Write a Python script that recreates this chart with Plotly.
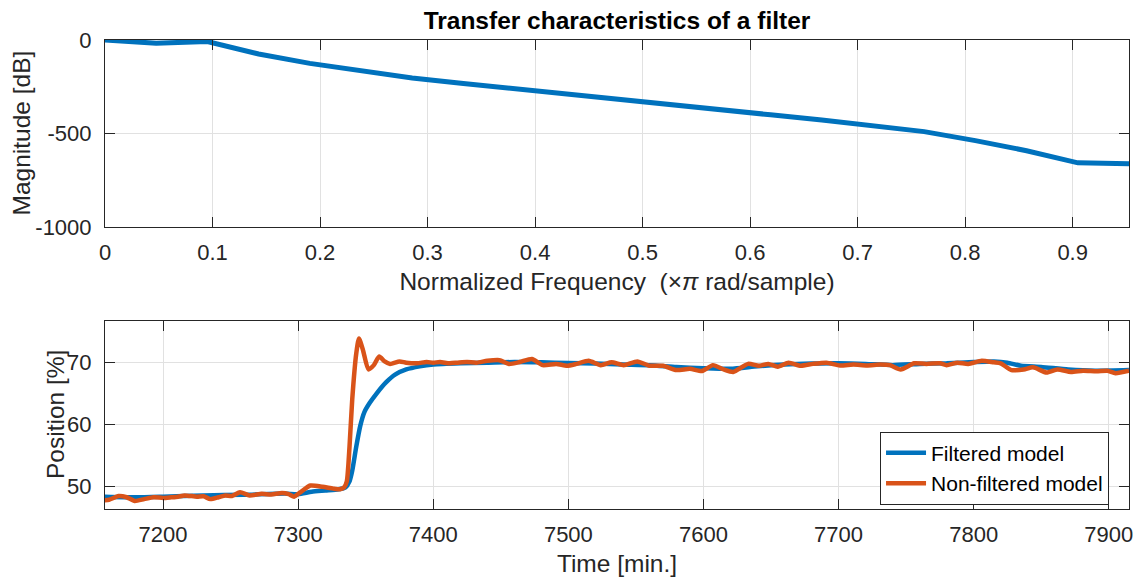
import plotly.graph_objects as go

# ---------------- data ----------------
freq = [0.0, 0.0476, 0.0952, 0.1429, 0.1905, 0.2381, 0.2857, 0.3333, 0.3810, 0.4286,
        0.4762, 0.5238, 0.5714, 0.6190, 0.6667, 0.7143, 0.7619, 0.8095, 0.8571, 0.9048, 0.9524]
magnitude_db = [0, -17, -8, -75, -125, -165, -203, -233, -262, -290,
                -317, -345, -372, -400, -428, -458, -490, -538, -592, -657, -662]

mag_tickvals = [-1000, -500, 0]
mag_ticktext = ["-1000", "-500", "0"]

t_filtered = [7156, 7180, 7200, 7230, 7260, 7290, 7300, 7310, 7320, 7330, 7335, 7338, 7340,
              7343, 7346, 7349, 7353, 7358, 7365, 7372, 7380, 7390, 7400, 7420, 7440, 7460,
              7480, 7500, 7520, 7540, 7560, 7580, 7600, 7620, 7640, 7660, 7680, 7700, 7720,
              7740, 7760, 7780, 7800, 7815, 7825, 7835, 7850, 7870, 7890, 7915]
pos_filtered = [48.3, 48.2, 48.3, 48.5, 48.6, 48.8, 48.7, 49.1, 49.3, 49.5, 49.8, 50.8, 52.5,
                56.4, 59.8, 62.0, 63.5, 65.0, 66.8, 68.1, 68.9, 69.4, 69.7, 69.9, 70.0, 70.1,
                70.05, 69.95, 69.85, 69.7, 69.6, 69.3, 69.1, 69.0, 69.4, 69.7, 69.85, 69.9, 69.8,
                69.6, 69.8, 69.9, 70.1, 70.2, 70.0, 69.5, 69.3, 68.9, 68.7, 68.8]

t_raw = [7156, 7160, 7167, 7173, 7179, 7186, 7193, 7200, 7206, 7211, 7216, 7225, 7230, 7235,
         7241, 7246, 7251, 7257, 7264, 7273, 7280, 7288, 7293, 7297, 7301, 7309, 7318, 7326,
         7331, 7334, 7336, 7338, 7340, 7343, 7345, 7348, 7352, 7356, 7360, 7364, 7368, 7375,
         7380, 7388, 7395, 7400, 7405, 7412, 7418, 7425, 7432, 7440, 7449, 7456, 7464, 7473,
         7481, 7491, 7499, 7506, 7515, 7524, 7532, 7541, 7551, 7560, 7570, 7580, 7590, 7599,
         7607, 7615, 7622, 7633, 7641, 7648, 7655, 7663, 7672, 7681, 7691, 7701, 7711, 7721,
         7731, 7738, 7746, 7756, 7765, 7775, 7780, 7788, 7796, 7806, 7815, 7820, 7828, 7837,
         7844, 7854, 7862, 7872, 7881, 7891, 7899, 7905, 7915]
pos_raw = [47.7, 47.8, 48.4, 48.2, 47.6, 47.9, 48.2, 48.1, 48.2, 48.3, 48.5, 48.3, 48.35, 47.9,
           48.2, 48.5, 48.4, 49.0, 48.5, 48.75, 48.65, 48.9, 48.7, 48.3, 48.9, 50.1, 49.9, 49.6,
           49.5, 49.8, 50.8, 56.4, 64.0, 71.5, 73.9, 72.0, 68.9, 69.6, 71.0, 70.2, 69.8, 70.2,
           70.0, 69.9, 70.1, 70.0, 70.1, 69.9, 70.0, 70.1, 70.0, 70.3, 70.4, 69.8, 70.1, 70.6,
           69.6, 69.8, 69.5, 69.8, 70.3, 69.6, 70.05, 69.6, 70.2, 69.5, 69.5, 68.8, 69.0, 68.65,
           69.6, 68.9, 68.5, 69.8, 69.5, 69.8, 69.35, 70.0, 69.5, 69.8, 70.0, 69.55, 69.7, 69.55,
           69.7, 69.6, 68.9, 69.9, 69.8, 69.9, 69.6, 70.0, 69.8, 70.3, 70.05, 69.9, 68.8, 68.9,
           69.25, 68.4, 68.9, 68.5, 68.7, 68.6, 68.7, 68.3, 68.7]

pos_tickvals = [50, 60, 70]

# ---------------- styling ----------------
BLUE = "#0072BD"
ORANGE = "#D95319"
AX = "#262626"
GRID = "#E1E1E1"
FONT = "Liberation Sans, Arial, sans-serif"

fig = go.Figure()
fig.add_trace(go.Scatter(x=freq, y=magnitude_db, mode="lines",
                         line=dict(color=BLUE, width=5), showlegend=False,
                         xaxis="x", yaxis="y"))
fig.add_trace(go.Scatter(x=t_filtered, y=pos_filtered, mode="lines", name="Filtered model",
                         line=dict(color=BLUE, width=4.5, shape="spline", smoothing=0.6),
                         xaxis="x2", yaxis="y2"))
fig.add_trace(go.Scatter(x=t_raw, y=pos_raw, mode="lines", name="Non-filtered model",
                         line=dict(color=ORANGE, width=4.5, shape="spline", smoothing=0.6),
                         xaxis="x2", yaxis="y2"))

axis_common = dict(showline=True, linecolor=AX, linewidth=1, mirror="ticks",
                   ticks="inside", ticklen=10, tickcolor=AX, tickwidth=1,
                   showgrid=True, gridcolor=GRID, gridwidth=1, zeroline=False,
                   automargin=False,
                   tickfont=dict(family=FONT, size=22, color=AX),
                   title_font=dict(family=FONT, size=24.5, color=AX))

TOP_DOM = [0.6013, 1]
BOT_DOM = [0, 0.4009]

fig.update_layout(
    width=1142, height=581,
    margin=dict(l=105, r=13, t=40, b=72, autoexpand=False),
    paper_bgcolor="white", plot_bgcolor="white",
    title=dict(text="<b>Transfer characteristics of a filter</b>",
               font=dict(family=FONT, size=24.5, color="#000000"),
               x=0.5, xref="paper", y=1 - 20 / 581, yref="container",
               xanchor="center", yanchor="middle", automargin=False),
    xaxis=dict(domain=[0, 1], anchor="y", range=[0, 20 / 21], dtick=0.1, tick0=0,
               title=dict(text="Normalized Frequency  (×<i>π</i> rad/sample)", standoff=8),
               ticklabelstandoff=6, **axis_common),
    yaxis=dict(domain=TOP_DOM, anchor="x", range=[-1000, 0],
               tickvals=mag_tickvals, ticktext=mag_ticktext,
               ticklabelstandoff=8, **axis_common),
    xaxis2=dict(domain=[0, 1], anchor="y2", range=[7157, 7915], dtick=100, tick0=7000,
                title=dict(text="Time [min.]", standoff=8),
                ticklabelstandoff=6, **axis_common),
    yaxis2=dict(domain=BOT_DOM, anchor="x2", range=[46.3, 76.75],
                tickvals=pos_tickvals,
                ticklabelstandoff=8, **axis_common),
    legend=dict(x=0.9805, y=0.1648, xanchor="right", yanchor="top",
                bgcolor="white", bordercolor=AX, borderwidth=1,
                font=dict(family=FONT, size=21, color="#000000"),
                tracegroupgap=0, itemwidth=40),
    annotations=[
        dict(text="Magnitude [dB]", textangle=-90, xref="paper", yref="paper",
             x=0, y=sum(TOP_DOM) / 2, xanchor="center", yanchor="middle",
             xshift=-84, showarrow=False,
             font=dict(family=FONT, size=24.5, color=AX)),
        dict(text="Position [%]", textangle=-90, xref="paper", yref="paper",
             x=0, y=sum(BOT_DOM) / 2, xanchor="center", yanchor="middle",
             xshift=-49, showarrow=False,
             font=dict(family=FONT, size=24.5, color=AX)),
    ],
)

fig.write_html("out.html", config={"displayModeBar": False},
               post_script="document.body.style.margin='0';document.body.style.overflow='hidden';")
